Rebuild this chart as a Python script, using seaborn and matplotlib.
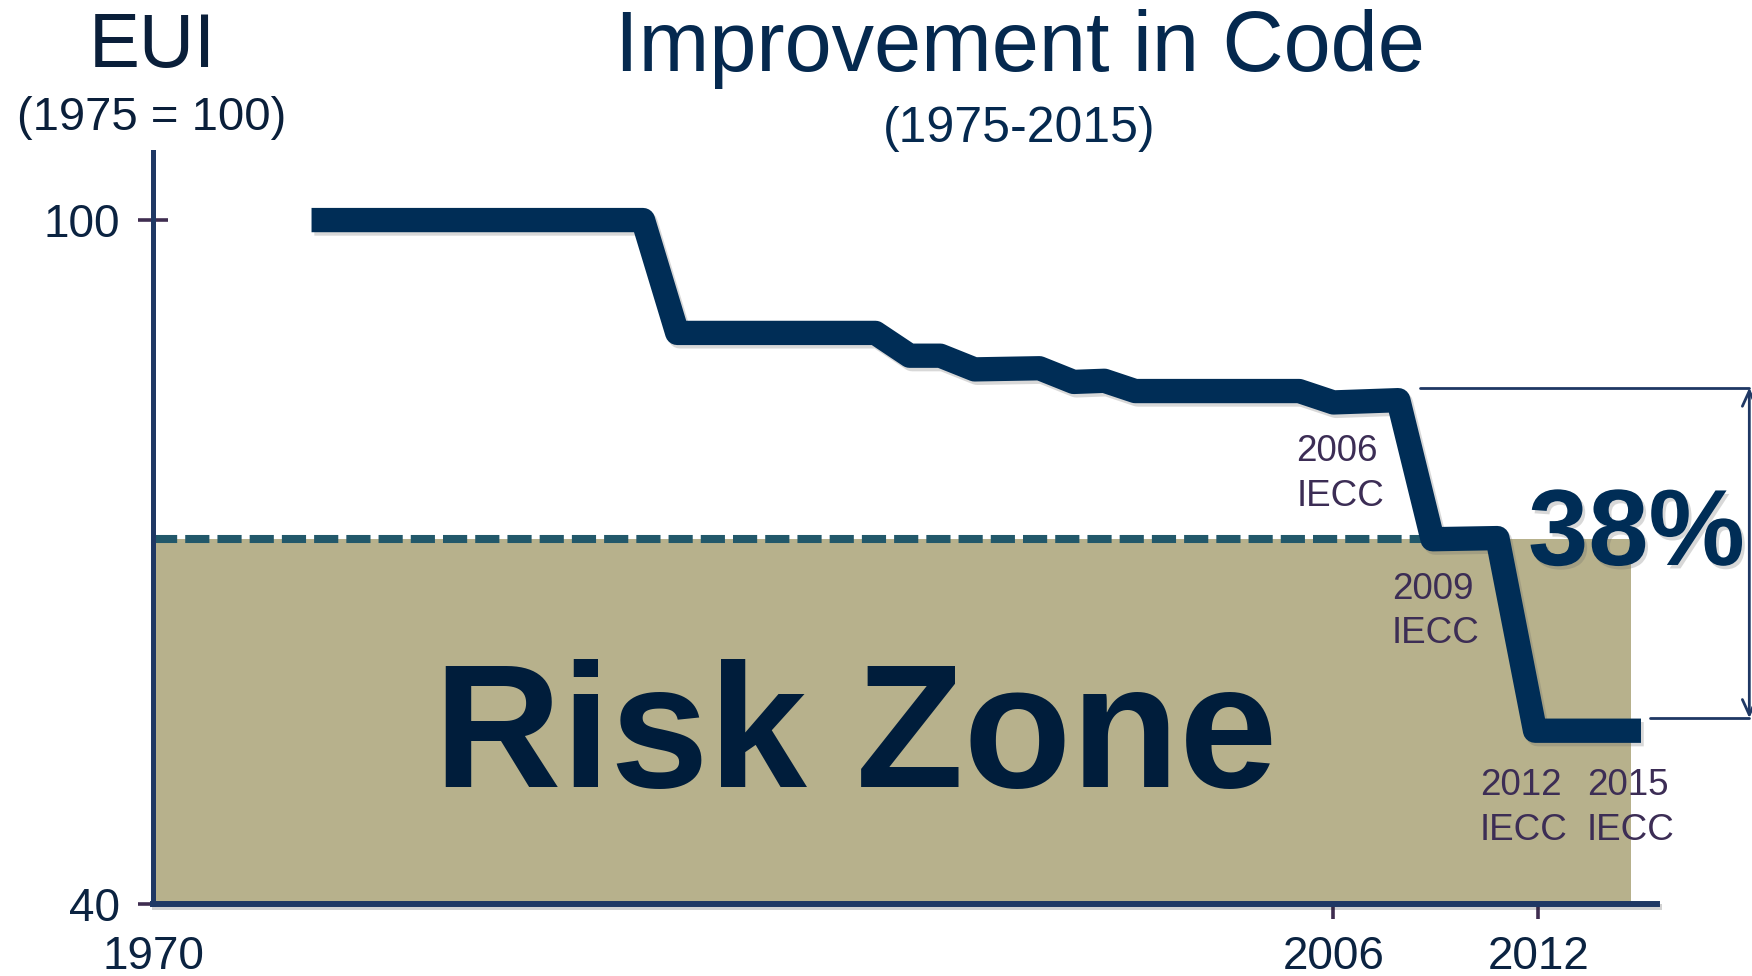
import matplotlib
matplotlib.use('Agg')
import matplotlib.pyplot as plt
import matplotlib.patheffects as pe
import seaborn as sns
import pandas as pd

# code EUI path (1975 = 100)
years = [1976.1, 1985.8, 1986.8, 1992.6, 1993.6, 1994.5, 1995.5, 1997.4, 1998.4,
         1999.3, 2000.2, 2005.0, 2006.0, 2007.9, 2008.9, 2010.8, 2011.9, 2015.0]
eui = [100, 100, 90.1, 90.1, 88.1, 88.1, 86.9, 87.0, 85.8,
       85.9, 85.0, 85.0, 84.0, 84.2, 72.0, 72.1, 55.2, 55.2]

risk_level = 72
risk_end = 2014.7
code_names = ['2006', '2009', '2012', '2015']
x_tick_years = [2006, 2012]
x_tick_labels = ['1970', '2006', '2012']
y_ticks = [40, 100]
improvement = '38%'
bracket_top, bracket_bottom = 85.3, 56.3

navy = '#002d56'
text_navy = '#0b2341'
spine_col = '#1f3864'
tick_col = '#3f2d50'
label_col = '#3c2d55'
fill_col = '#b7b18c'
dash_col = '#22586a'

sns.set_theme(style='white')
plt.rcParams['font.family'] = ['Liberation Sans', 'DejaVu Sans']

fig = plt.figure(figsize=(17.52, 9.76), dpi=100)
ax = fig.add_axes([0.0875, 0.0738, 0.8583, 0.7708])

x0, x1 = 1971.47, 2015.47
ax.set_xlim(x0, x1)
ax.set_ylim(40, 106)

# risk zone band + threshold
ax.fill_between([x0, risk_end], 40, risk_level, color=fill_col, lw=0, zorder=1)
ax.hlines(risk_level, x0, 2008.9, colors=dash_col, linewidth=5.8,
          linestyles=(0, (3, 1)), zorder=2)

df = pd.DataFrame({'year': years, 'eui': eui})
sns.lineplot(data=df, x='year', y='eui', sort=False, estimator=None, ax=ax,
             color=navy, linewidth=17.5, solid_joinstyle='round',
             solid_capstyle='butt', zorder=4,
             path_effects=[pe.SimpleLineShadow(offset=(2, -2.5), shadow_color='0.4', alpha=0.25),
                           pe.Normal()])

ax.text(1992.03, 50.29, 'Risk Zone', fontsize=127, fontweight='bold',
        color='#001d3b', ha='center', va='baseline', zorder=3)

# IECC labels
label_pos = [(2004.91, 81.2), (2007.71, 69.1), (2010.28, 51.9), (2013.42, 51.9)]
for name, (lx, ly) in zip(code_names, label_pos):
    ax.text(lx, ly, f'{name}\nIECC', fontsize=26.5, color=label_col,
            ha='left', va='top', linespacing=1.34, zorder=5)

# bracket with the improvement
bx = 2018.17
ax.plot([2008.53, bx], [bracket_top, bracket_top], color=spine_col, lw=2, clip_on=False)
ax.plot([2015.27, bx], [bracket_bottom, bracket_bottom], color=spine_col, lw=2, clip_on=False)
ax.annotate('', xy=(bx, bracket_top), xytext=(bx, bracket_bottom), annotation_clip=False,
            arrowprops=dict(arrowstyle='<->,head_length=0.55,head_width=0.25',
                            color=spine_col, lw=2, shrinkA=0, shrinkB=0, mutation_scale=20))
ax.text(2014.87, 69.74, improvement, fontsize=78, fontweight='bold', color=navy,
        ha='center', va='baseline', zorder=5,
        path_effects=[pe.withSimplePatchShadow(offset=(2, -2.5), shadow_rgbFace='0.4', alpha=0.25)])

# axes styling
sns.despine(ax=ax)
ax.spines['left'].set_color(spine_col)
ax.spines['left'].set_linewidth(3.6)
ax.spines['bottom'].set_color(spine_col)
ax.spines['bottom'].set_linewidth(4.3)
ax.spines['bottom'].set_path_effects([pe.SimpleLineShadow(offset=(1.5, -2), alpha=0.2), pe.Normal()])

ax.set_yticks(y_ticks)
ax.set_xticks([x0] + x_tick_years, labels=x_tick_labels)
ax.tick_params(axis='y', left=True, direction='inout', length=21, width=2.6, color=tick_col,
               labelsize=33, labelcolor=text_navy, pad=13.5)
ax.tick_params(axis='x', bottom=True, direction='inout', length=21, width=2.6, color=tick_col,
               labelsize=33, labelcolor=text_navy, pad=12)
ax.xaxis.get_major_ticks()[0].tick1line.set_visible(False)
ax.set_xlabel('')
ax.set_ylabel('')
ax.grid(False)

# headings
fig.text(0.5822, 0.9273, 'Improvement in Code', fontsize=61, color='#05294f',
         ha='center', va='baseline')
fig.text(0.5815, 0.8548, '(1975-2015)', fontsize=36, color='#05294f',
         ha='center', va='baseline')
fig.text(0.0868, 0.9317, 'EUI', fontsize=55, color='#0a1f3a', ha='center', va='baseline')
fig.text(0.0863, 0.8668, '(1975 = 100)', fontsize=34, color='#0a1f3a',
         ha='center', va='baseline')

fig.savefig('out.png', dpi=100)
plt.close(fig)
